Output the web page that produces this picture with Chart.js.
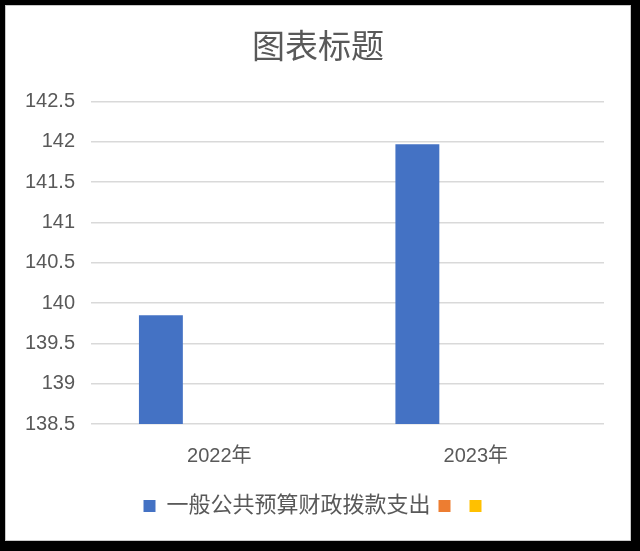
<!DOCTYPE html>
<html lang="zh">
<head>
    <meta charset="UTF-8">
    <title>图表标题</title>
    <script src="https://cdn.jsdelivr.net/npm/chart.js"></script>
    <style>
        body { margin: 0; background: #000; width: 640px; height: 551px; overflow: hidden; }
        .frame { position: absolute; left: 5px; top: 5px; width: 624px; height: 534px;
                 background: #fff; border: 1px solid #c8c8c8; }
        canvas { display: block; }
    </style>
</head>
<body>
    <div class="frame">
        <canvas id="grafico" width="624" height="534"></canvas>
    </div>
    <script>
        const categorie = ['2022年', '2023年'];
        const nomiSerie = ['一般公共预算财政拨款支出', '', ''];
        const valoriSpesa = [139.85, 141.97];
        const valoriSerie2 = [null, null];
        const valoriSerie3 = [null, null];
        const colori = ['#4472C4', '#ED7D31', '#FFC000'];

        const fontBase = "'Liberation Sans', 'Noto Sans CJK SC', sans-serif";
        const grigio = '#595959';

        const ctx = document.getElementById('grafico').getContext('2d');
        new Chart(ctx, {
            type: 'bar',
            data: {
                labels: categorie,
                datasets: [valoriSpesa, valoriSerie2, valoriSerie3].map((dati, i) => ({
                    label: nomiSerie[i],
                    data: dati,
                    backgroundColor: colori[i],
                    borderWidth: 0,
                    barPercentage: 0.752,
                    categoryPercentage: 0.683
                }))
            },
            options: {
                responsive: false,
                animation: false,
                layout: { padding: { left: 3, right: 3, top: 23, bottom: 13 } },
                plugins: {
                    title: {
                        display: true,
                        text: '图表标题',
                        color: grigio,
                        font: { family: fontBase, size: 33, weight: 'normal' },
                        padding: { top: 0, bottom: 33 }
                    },
                    legend: {
                        position: 'bottom',
                        labels: {
                            color: grigio,
                            font: { family: fontBase, size: 22 },
                            boxWidth: 12,
                            boxHeight: 12,
                            padding: 8
                        }
                    },
                    tooltip: { enabled: false }
                },
                scales: {
                    x: {
                        grid: { display: false },
                        border: { display: false },
                        ticks: { color: grigio, font: { family: fontBase, size: 20 }, padding: 12 },
                        afterFit: scala => { scala.height += 7; }
                    },
                    y: {
                        min: 138.5,
                        max: 142.5,
                        grid: { color: '#d9d9d9', lineWidth: 1.5, drawTicks: false },
                        border: { display: false },
                        ticks: {
                            stepSize: 0.5,
                            color: grigio,
                            font: { family: fontBase, size: 20 },
                            padding: 16,
                            callback: v => String(v)
                        }
                    },
                    // margine destro vuoto, come nel grafico originale
                    margine: {
                        position: 'right',
                        grid: { display: false },
                        border: { display: false },
                        ticks: { display: false },
                        afterFit: scala => { scala.width = 23; }
                    }
                }
            }
        });
    </script>
</body>
</html>
